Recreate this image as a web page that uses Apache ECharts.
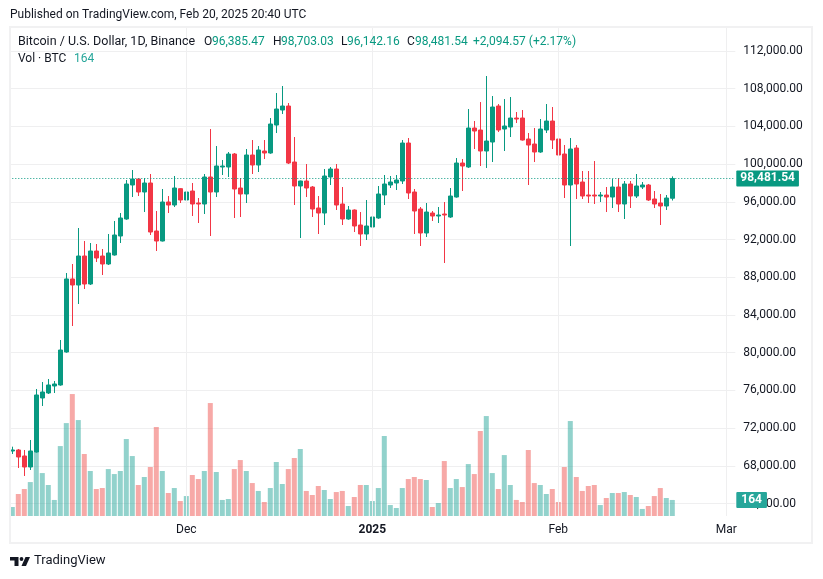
<!DOCTYPE html>
<html>
<head>
<meta charset="utf-8">
<title>BTC/USD</title>
<script src="https://cdn.jsdelivr.net/npm/echarts@6/dist/echarts.min.js"></script>
<style>
    html, body {margin: 0; padding: 0; background: #fff;}
    #chart {width: 823px; height: 579px;}
</style>
</head>
<body>
<div id="chart"></div>
<script>
var opens = [
    69578, 69684, 69047, 67881, 69472, 75199, 75730, 76472, 76578, 80077,
    87823, 87182, 90258, 87288, 90788, 90258, 89410, 90364, 92379, 94182,
    97788, 98424, 97046, 98000, 92909, 91849, 95985, 95667, 97400, 96197,
    97152, 95879, 95773, 98637, 97046, 99697, 99697, 101076, 97470, 96834,
    100970, 99909, 101394, 101182, 104151, 105741, 106165, 100227, 97682, 98212,
    97576, 95349, 94818, 98637, 99485, 95773, 94182, 95137, 93546, 92591,
    93334, 94288, 96727, 97788, 98000, 98212, 102242, 97046, 95243, 92697,
    94818, 94500, 94712, 94394, 96515, 100121, 99697, 103833, 103621, 101394,
    102348, 106165, 103727, 103939, 104893, 104893, 102666, 102136, 101288, 103621,
    104575, 102666, 101076, 97788, 101712, 98106, 96727, 96727, 96621, 96727,
    96515, 97576, 95773, 97894, 96621, 97576, 97788, 96303, 95879, 95561,
    96385.47
];
var closes = [
    69684, 68941, 67881, 69578, 75517, 75836, 76578, 76684, 80289, 87823,
    87182, 90258, 87288, 90788, 90046, 89410, 90576, 92485, 94288, 97894,
    98424, 97046, 98000, 92803, 91849, 95985, 95667, 97470, 96197, 97046,
    95773, 95773, 98637, 97046, 99803, 99803, 101076, 97364, 96834, 100970,
    99909, 101500, 101182, 104257, 105847, 106165, 100121, 97682, 98212, 97470,
    95243, 94818, 98743, 99485, 95667, 94182, 95137, 93440, 92591, 93440,
    94394, 96834, 97894, 98106, 98318, 102242, 96940, 95031, 92697, 94924,
    94500, 94606, 94606, 96621, 100121, 99803, 103833, 103515, 101394, 102454,
    106059, 103621, 104045, 104893, 104787, 102560, 102030, 101288, 103727, 104575,
    102560, 100970, 97788, 101606, 97894, 96621, 96621, 96621, 96727, 96515,
    97576, 95773, 97894, 96621, 97682, 97788, 96197, 95773, 95561, 96409,
    98481.54
];
var lows = [
    69260, 67775, 66926, 67563, 69400, 74351, 75624, 75730, 76500, 80000,
    82834, 85167, 86758, 87182, 89622, 88243, 89304, 90300, 91637, 94100,
    96515, 96621, 94924, 92485, 90788, 91800, 94818, 95455, 95879, 95667,
    94500, 93758, 94712, 92379, 96515, 98849, 98637, 94288, 94394, 95879,
    98955, 99167, 100545, 101100, 103302, 105317, 100015, 95667, 92167, 96515,
    94394, 92591, 93546, 97788, 95137, 93546, 94100, 92803, 91319, 91955,
    92803, 94200, 95667, 97470, 97258, 97894, 96303, 92591, 91319, 92273,
    93970, 93758, 89516, 94300, 96450, 97152, 99600, 101606, 99803, 99591,
    100227, 103408, 101394, 102878, 104363, 102500, 97788, 100227, 101200, 103302,
    101606, 100758, 96409, 91319, 96303, 96303, 95879, 95773, 95985, 94924,
    95349, 94924, 94182, 95349, 96409, 97364, 96100, 95349, 93546, 95137,
    96142.16
];
var highs = [
    70035, 69790, 69684, 70745, 76154, 76896, 77214, 77002, 81349, 88455,
    89410, 93228, 91849, 91637, 91531, 91000, 92591, 93970, 94818, 98318,
    99379, 98480, 98530, 98955, 95031, 97364, 96621, 98743, 97450, 97576,
    98000, 96409, 98955, 103727, 101924, 100439, 101288, 101182, 98530, 101606,
    102560, 101924, 102560, 104893, 107544, 108287, 106484, 102878, 98250, 100015,
    97682, 96621, 99485, 99697, 100015, 97576, 95561, 95200, 94924, 96197,
    95031, 97682, 98849, 98743, 98849, 102560, 102772, 97364, 95455, 95879,
    95031, 95455, 95985, 97470, 100651, 100545, 105847, 104575, 106589, 109347,
    107226, 106378, 106908, 107120, 105529, 105741, 103302, 103833, 104787, 106378,
    106059, 102984, 102030, 102772, 102030, 99273, 99273, 100333, 97046, 97576,
    98424, 98530, 98212, 98212, 98955, 98106, 97894, 97152, 96834, 96727,
    98703.03
];
var volumes = [
    92, 225, 276, 347, 654, 439, 317, 164, 715, 950,
    1247, 981, 634, 460, 276, 286, 480, 429, 460, 787,
    613, 317, 399, 501, 910, 460, 235, 286, 153, 204,
    419, 378, 460, 1155, 450, 164, 174, 480, 572, 460,
    337, 256, 143, 286, 552, 327, 480, 593, 685, 256,
    215, 307, 266, 174, 245, 256, 102, 194, 317, 317,
    153, 286, 818, 112, 82, 286, 378, 399, 378, 368,
    92, 133, 562, 286, 378, 296, 531, 429, 869, 1022,
    439, 276, 623, 317, 164, 143, 675, 337, 317, 225,
    276, 143, 501, 971, 399, 256, 307, 317, 112, 184,
    235, 235, 245, 215, 194, 72, 102, 204, 286, 184,
    164
];
var tickDates = ['2024-12-01', '2025-01-01', '2025-02-01', '2025-03-01'];
var tickNames = ['Dec', '2025', 'Feb', 'Mar'];
var priceTicks = [64000, 68000, 72000, 76000, 80000, 84000, 88000, 92000, 96000, 100000, 104000, 108000, 112000];
var lastPrice = 98481.54;
var lastVolume = 164;

var UP = '#089981', DOWN = '#f23645', GRID = '#efeff0', INK = '#131722';
var FONT = 'Roboto, sans-serif';

// one category per day, Nov 2 up to the right edge of the plot
var dates = [];
for (var d = Date.UTC(2024, 10, 2); d <= Date.UTC(2025, 2, 2); d += 86400000) {
    dates.push(new Date(d).toISOString().slice(0, 10));
}

$chart();

function $chart() {

    var myChart = echarts.init(document.getElementById('chart'));

    var candles = opens.map(function (o, i) {
        return [o, closes[i], lows[i], highs[i]];
    });

    var bars = volumes.map(function (v, i) {
        return {
            value: v,
            itemStyle: {color: closes[i] >= opens[i] ? 'rgba(38,166,154,0.5)' : 'rgba(239,83,80,0.5)'}
        };
    });

    function text(str, x, y, color, size, weight) {
        return {
            type: 'text', x: x, y: y, z: 100, silent: true,
            style: {
                text: str, fill: color, textVerticalAlign: 'middle',
                font: (weight || 'normal') + ' ' + (size || 12) + 'px ' + FONT
            }
        };
    }

    // invisible line over the volume scale, it only carries a markLine
    function carrier(z, markLine) {
        return {
            type: 'line', xAxisIndex: 1, yAxisIndex: 1, data: volumes, z: z, silent: true,
            symbol: 'none', lineStyle: {opacity: 0}, markLine: markLine
        };
    }

    var option = {
        animation: false,
        backgroundColor: '#fff',
        textStyle: {fontFamily: FONT},
        grid: [
            {left: 9.3, top: 13.3, width: 726, height: 528},
            {left: 9.3, top: 27, width: 726, height: 489}
        ],
        xAxis: [
            {type: 'category', gridIndex: 0, data: dates, show: false},
            {
                type: 'category', gridIndex: 1, data: dates,
                axisLine: {show: false},
                axisTick: {show: false},
                splitLine: {show: false},
                axisLabel: {
                    margin: 8,
                    fontSize: 12,
                    color: INK,
                    hideOverlap: false,
                    interval: function (i, name) {
                        return tickDates.indexOf(name) >= 0;
                    },
                    formatter: function (name) {
                        var s = tickNames[tickDates.indexOf(name)];
                        return s === '2025' ? '{year|' + s + '}' : s;
                    },
                    rich: {year: {fontWeight: 'bold', fontSize: 12, color: INK}}
                }
            }
        ],
        yAxis: [
            {
                type: 'value', gridIndex: 0, position: 'right',
                min: 60000, max: 116000, interval: 4000,
                axisLine: {show: false},
                axisTick: {show: false},
                splitLine: {show: true, showMinLine: false, showMaxLine: false, lineStyle: {color: GRID, width: 1}},
                axisLabel: {
                    margin: 8,
                    fontSize: 12,
                    color: INK,
                    align: 'left',
                    padding: [0, 0, 4, 0],
                    formatter: function (v) {
                        if (priceTicks.indexOf(v) < 0) return '';
                        return v.toLocaleString('en-US', {minimumFractionDigits: 2});
                    }
                }
            },
            {
                type: 'value', gridIndex: 1, min: 0, max: 5000, show: false
            }
        ],
        series: [
            // vertical month lines
            carrier(0, {
                silent: true, symbol: 'none', animation: false,
                label: {show: false},
                lineStyle: {color: GRID, width: 1, type: 'solid'},
                data: tickDates.map(function (t) { return {xAxis: t}; })
            }),
            {
                name: 'Vol', type: 'bar', xAxisIndex: 1, yAxisIndex: 1,
                barWidth: 5, z: 1, data: bars
            },
            {
                name: 'BTCUSD', type: 'candlestick', xAxisIndex: 0, yAxisIndex: 0,
                barWidth: 4, z: 2, data: candles,
                itemStyle: {color: UP, color0: DOWN, borderColor: UP, borderColor0: DOWN, borderWidth: 1},
                markLine: {
                    silent: true, symbol: 'none', animation: false, precision: 2,
                    lineStyle: {color: UP, width: 1, type: [1, 2]},
                    label: {
                        position: 'end', distance: 1, color: '#fff', fontWeight: 'bold', fontSize: 12,
                        backgroundColor: UP, padding: [2, 4, 2, 4], borderRadius: 1,
                        formatter: function () {
                            return lastPrice.toLocaleString('en-US');
                        }
                    },
                    data: [{yAxis: lastPrice}]
                }
            },
            // volume tag on the price scale
            carrier(5, {
                silent: true, symbol: 'none', animation: false,
                lineStyle: {color: 'rgba(0,0,0,0)', width: 1},
                label: {
                    position: 'end', distance: 1, color: '#fff', fontWeight: 'bold', fontSize: 12,
                    backgroundColor: '#26a69a', padding: [2, 5, 2, 5], borderRadius: 1,
                    formatter: String(lastVolume)
                },
                data: [{yAxis: lastVolume}]
            })
        ],
        graphic: [
            {
                type: 'rect', z: 90, silent: true,
                shape: {x: 10, y: 27, width: 802, height: 516},
                style: {fill: 'none', stroke: '#f1f1f2', lineWidth: 2}
            },
            text('Published on TradingView.com, Feb 20, 2025 20:40 UTC', 10, 15, INK),
            text('Bitcoin / U.S. Dollar, 1D, Binance', 18, 42, INK, 12.5),
            text('O', 204, 42, INK), text('96,385.47', 212, 42, UP),
            text('H', 273, 42, INK), text('98,703.03', 281, 42, UP),
            text('L', 341, 42, INK), text('96,142.16', 347, 42, UP),
            text('C', 407, 42, INK), text('98,481.54', 415, 42, UP),
            text('+2,094.57 (+2.17%)', 473, 42, UP),
            text('Vol · BTC', 18, 59, INK), text(String(lastVolume), 74, 59, '#26a69a'),
            text('TradingView', 34, 561, INK, 13),
            // TradingView mark
            {
                type: 'polygon', z: 100, silent: true,
                shape: {points: [[10, 557], [18.5, 557], [18.5, 566], [14.5, 566], [14.5, 560.5], [10, 560.5]]},
                style: {fill: INK}
            },
            {type: 'circle', z: 100, silent: true, shape: {cx: 21.5, cy: 559, r: 1.9}, style: {fill: INK}},
            {
                type: 'polygon', z: 100, silent: true,
                shape: {points: [[25.5, 557], [30, 557], [26, 566], [21.5, 566]]},
                style: {fill: INK}
            }
        ]
    };

    myChart.setOption(option);
    window.addEventListener('resize', function () {
        myChart.resize();
    });

}
</script>
</body>
</html>
